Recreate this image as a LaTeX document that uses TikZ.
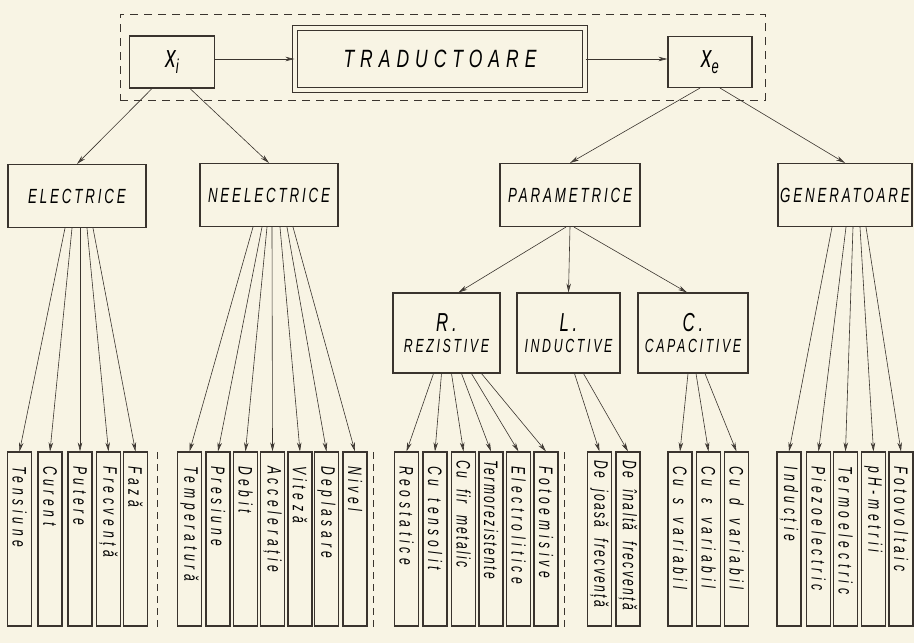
\documentclass[tikz,border=0pt]{standalone}
\usepackage{graphicx}
\usepackage{fontspec}
\setmainfont{Liberation Sans}
\newfontfamily\hwA{Liberation Sans}[FakeStretch=0.62,LetterSpace=24,WordSpace=1.6]
\newfontfamily\hwN{Liberation Sans}[FakeStretch=0.62,LetterSpace=12,WordSpace=2.0]
\newfontfamily\hwB{Liberation Sans}[FakeStretch=0.65,LetterSpace=14]
\newfontfamily\hwC{Liberation Sans}[FakeStretch=0.7,LetterSpace=24]
\usetikzlibrary{arrows.meta}
\definecolor{ink}{HTML}{3A342E}
\definecolor{paper}{HTML}{F8F4E4}
\definecolor{tipc}{HTML}{5E5852}
\newcommand\vlab[1]{\rotatebox{-90}{\makebox[162pt][l]{\hspace*{8pt}\hwA\itshape\fontsize{19.5}{21}\selectfont #1}}}
\newcommand\vlabn[1]{\rotatebox{-90}{\makebox[162pt][l]{\hspace*{2pt}\hwN\itshape\fontsize{19.5}{21}\selectfont #1}}}
\newcommand\cat[1]{\hwB\itshape\fontsize{20.5}{24}\selectfont #1}
\newcommand\subcat[2]{{\hwB\itshape\fontsize{26}{28}\selectfont #1}\\[7pt]{\hwB\itshape\fontsize{19}{21}\selectfont #2}}
\tikzset{
  box/.style={draw=ink, line width=1.1pt, inner sep=0pt, fill=paper},
  vbox/.style={box, minimum width=24pt, minimum height=174pt},
  catbox/.style={box, minimum height=63pt},
  subbox/.style={box, minimum height=80pt, align=center},
  conn/.style={draw=ink, line width=0.6pt, -{Stealth[length=9pt,width=4.5pt,fill=tipc]}},
  sepline/.style={draw=ink, line width=1pt, dash pattern=on 7pt off 5pt},
}
\begin{document}
\begin{tikzpicture}[x=1pt,y=-1pt]
\fill[paper] (0,0) rectangle (914,643);
\useasboundingbox (0,0) rectangle (914,643);

% top row
\node[draw=ink, line width=1pt, dash pattern=on 8pt off 6pt, minimum width=645pt, minimum height=86pt] (frame) at (442.5,57) {};
\node[box, minimum width=85pt, minimum height=52pt] (xi) at (172,62)
  {\hwB\itshape{\fontsize{32}{34}\selectfont x}\raisebox{-6pt}{\fontsize{20}{22}\selectfont i}};
\node[box, double=paper, double distance=4pt, line width=1.2pt, minimum width=290pt, minimum height=62pt] (trad) at (440,59)
  {\hwC\itshape\fontsize{25}{28}\selectfont TRADUCTOARE};
\node[box, minimum width=84pt, minimum height=51pt] (xe) at (710,62)
  {\hwB\itshape{\fontsize{32}{34}\selectfont x}\raisebox{-6pt}{\fontsize{20}{22}\selectfont e}};
\draw[conn] (xi.east |- 0,59) -- (trad.west |- 0,59);
\draw[conn] (trad.east |- 0,59) -- (xe.west |- 0,59);

% categories
\node[catbox, minimum width=138pt] (el) at (77,196) {\cat{ELECTRICE}};
\node[catbox, minimum width=138pt] (neel) at (269,195) {\cat{NEELECTRICE}};
\node[catbox, minimum width=140pt] (par) at (570,195) {\cat{PARAMETRICE}};
\node[catbox, minimum width=134pt] (gen) at (845,195) {\cat{GENERATOARE}};
\draw[conn] ([xshift=-20pt]xi.south) -- (el.north);
\draw[conn] ([xshift=18pt]xi.south) -- (neel.north);
\draw[conn] ([xshift=-10pt]xe.south) -- (par.north);
\draw[conn] ([xshift=10pt]xe.south) -- (gen.north);

% R L C
\node[subbox, minimum width=107pt] (R) at (446.5,333) {\subcat{R.}{REZISTIVE}};
\node[subbox, minimum width=103pt] (L) at (568.5,333) {\subcat{L.}{INDUCTIVE}};
\node[subbox, minimum width=110pt] (C) at (693,333) {\subcat{C.}{CAPACITIVE}};
\draw[conn] ([xshift=-4pt]par.south) -- ([xshift=12pt]R.north);
\draw[conn] (par.south) -- (L.north);
\draw[conn] ([xshift=4pt]par.south) -- ([xshift=-6pt]C.north);

% bottom boxes
\node[vbox] (e1) at (19.5,539) {\vlab{Tensiune}};
\node[vbox] (e2) at (50,539) {\vlab{Curent}};
\node[vbox] (e3) at (80,539) {\vlab{Putere}};
\node[vbox] (e4) at (108.5,539) {\vlab{Frecvență}};
\node[vbox] (e5) at (135.5,539) {\vlab{Fază}};

\node[vbox] (n1) at (189.5,539) {\vlab{Temperatură}};
\node[vbox] (n2) at (218,539) {\vlab{Presiune}};
\node[vbox] (n3) at (245.5,539) {\vlab{Debit}};
\node[vbox] (n4) at (272.5,539) {\vlab{Accelerație}};
\node[vbox] (n5) at (300,539) {\vlab{Viteză}};
\node[vbox] (n6) at (326.5,539) {\vlab{Deplasare}};
\node[vbox] (n7) at (355,539) {\vlab{Nivel}};

\node[vbox] (r1) at (406.5,539) {\vlab{Reostatice}};
\node[vbox] (r2) at (435,539) {\vlab{Cu tensolit}};
\node[vbox] (r3) at (463.5,539) {\vlabn{Cu fir metalic}};
\node[vbox] (r4) at (491,539) {\vlabn{Termorezistente}};
\node[vbox] (r5) at (518.5,539) {\vlab{Electrolitice}};
\node[vbox] (r6) at (546,539) {\vlab{Fotoemisive}};

\node[vbox] (l1) at (599.5,539) {\vlabn{De joasă frecvență}};
\node[vbox] (l2) at (628,539) {\vlabn{De înaltă frecvență}};

\node[vbox] (c1) at (680,539) {\vlab{Cu s variabil}};
\node[vbox] (c2) at (708.5,539) {\vlab{Cu ε variabil}};
\node[vbox] (c3) at (736.5,539) {\vlab{Cu d variabil}};

\node[vbox] (g1) at (789,539) {\vlab{Inducție}};
\node[vbox] (g2) at (818.5,539) {\vlab{Piezoelectric}};
\node[vbox] (g3) at (845.5,539) {\vlab{Termoelectric}};
\node[vbox] (g4) at (873.5,539) {\vlab{pH-metrii}};
\node[vbox] (g5) at (901,539) {\vlab{Fotovoltaic}};

% separators
\draw[sepline] (157,452) -- (157,628);
\draw[sepline] (373,452) -- (373,628);
\draw[sepline] (564,452) -- (564,628);

% fan-out connectors
\foreach \t/\o in {e1/-12,e2/-5,e3/3,e4/10,e5/16}
  \draw[conn] ([xshift=\o pt]el.south) -- (\t.north);
\foreach \t/\o in {n1/-16,n2/-7,n3/-2,n4/3,n5/11,n6/18,n7/24}
  \draw[conn] ([xshift=\o pt]neel.south) -- (\t.north);
\foreach \t/\o in {r1/-13,r2/-5,r3/5,r4/15,r5/25,r6/35}
  \draw[conn] ([xshift=\o pt]R.south) -- (\t.north);
\foreach \t/\o in {l1/6,l2/15}
  \draw[conn] ([xshift=\o pt]L.south) -- (\t.north);
\foreach \t/\o in {c1/-5,c2/3,c3/12}
  \draw[conn] ([xshift=\o pt]C.south) -- (\t.north);
\foreach \t/\o in {g1/-13,g2/1,g3/8,g4/15,g5/21}
  \draw[conn] ([xshift=\o pt]gen.south) -- (\t.north);
\end{tikzpicture}
\end{document}
